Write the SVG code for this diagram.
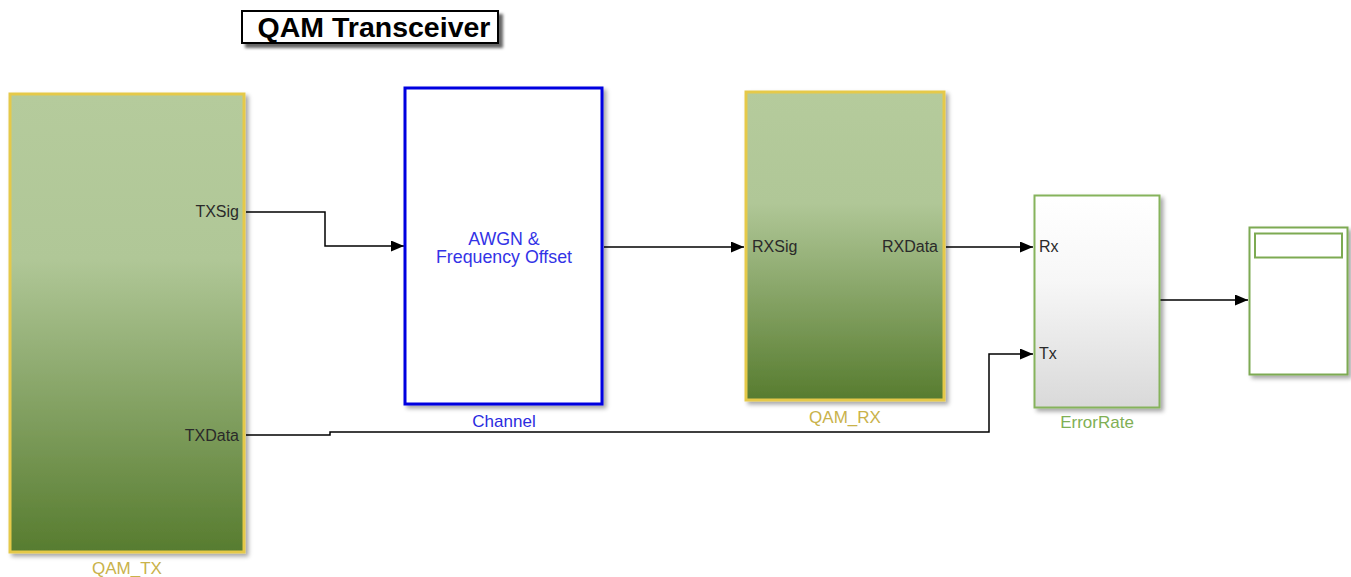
<svg xmlns="http://www.w3.org/2000/svg" width="1351" height="577" viewBox="0 0 1351 577">
<style>
.port{font-family:"Liberation Sans",Arial,sans-serif;font-size:16px;fill:#2a2a2a}
.name{font-family:"Liberation Sans",Arial,sans-serif;font-size:17px;text-anchor:middle}
.inner{font-size:17.8px}
.sub{stroke:#E5C94A;stroke-width:3}
.wire{fill:none;stroke:#000;stroke-width:1.5}
</style>
<defs>
<linearGradient id="gSub" x1="0" y1="0" x2="0" y2="1">
<stop offset="0" stop-color="#B5CB9C"/>
<stop offset="0.36" stop-color="#B0C797"/>
<stop offset="1" stop-color="#577C2F"/>
</linearGradient>
<linearGradient id="gGrey" x1="0" y1="0" x2="0" y2="1">
<stop offset="0" stop-color="#FFFFFF"/>
<stop offset="0.4" stop-color="#F7F7F7"/>
<stop offset="1" stop-color="#D9D9D9"/>
</linearGradient>
<filter id="sh" x="-10%" y="-10%" width="130%" height="130%">
<feDropShadow dx="3" dy="3" stdDeviation="2" flood-color="#000" flood-opacity="0.35"/>
</filter>
<filter id="tsh" x="-10%" y="-20%" width="130%" height="160%">
<feDropShadow dx="4" dy="4" stdDeviation="1.5" flood-color="#000" flood-opacity="0.6"/>
</filter>
<marker id="arr" markerWidth="13" markerHeight="11" refX="13" refY="5.5" orient="auto" markerUnits="userSpaceOnUse">
<path d="M0,0 L13,5.5 L0,11 Z" fill="#000"/>
</marker>
</defs>

<g id="title">
<rect x="242" y="11" width="256" height="32" fill="#fff" stroke="#000" stroke-width="2" filter="url(#tsh)"/>
<text x="374" y="37" text-anchor="middle" font-family="'Liberation Sans',Arial,sans-serif" font-size="28.5" font-weight="bold" fill="#000">QAM Transceiver</text>
</g>

<g id="connectors">
<polyline class="wire" points="246,212 325,212 325,246 404,246" marker-end="url(#arr)"/>
<polyline class="wire" points="604,247 744,247" marker-end="url(#arr)"/>
<polyline class="wire" points="946,247 1033,247" marker-end="url(#arr)"/>
<polyline class="wire" points="1160,300 1248,300" marker-end="url(#arr)"/>
<polyline class="wire" points="246,435 330,435 330,432 989,432 989,354 1033,354" marker-end="url(#arr)"/>
</g>

<g id="QAM_TX">
<rect class="sub" x="10" y="94" width="234" height="458" fill="url(#gSub)" filter="url(#sh)"/>
<text class="port" x="239" y="217" text-anchor="end">TXSig</text>
<text class="port" x="239" y="441" text-anchor="end">TXData</text>
<text class="name" x="127" y="574" fill="#C9B24A">QAM_TX</text>
</g>

<g id="Channel">
<rect x="405" y="88" width="197" height="316" fill="#fff" stroke="#0000E0" stroke-width="3" filter="url(#sh)"/>
<text class="name inner" x="504" y="245" fill="#3333E6">AWGN &amp;</text>
<text class="name inner" x="504" y="263" fill="#3333E6">Frequency Offset</text>
<text class="name" x="504" y="427" fill="#2B2BE0">Channel</text>
</g>

<g id="QAM_RX">
<rect class="sub" x="746" y="92" width="198" height="308" fill="url(#gSub)" filter="url(#sh)"/>
<text class="port" x="752" y="252">RXSig</text>
<text class="port" x="938" y="252" text-anchor="end">RXData</text>
<text class="name" x="845" y="423" fill="#C9B24A">QAM_RX</text>
</g>

<g id="ErrorRate">
<rect x="1034.5" y="195.5" width="125" height="212" fill="url(#gGrey)" stroke="#86B35C" stroke-width="2" filter="url(#sh)"/>
<text class="port" x="1039" y="252">Rx</text>
<text class="port" x="1039" y="359">Tx</text>
<text class="name" x="1097" y="428" fill="#7FAF55">ErrorRate</text>
</g>

<g id="Display">
<rect x="1249.5" y="227.5" width="98" height="147" fill="#fff" stroke="#7DAA52" stroke-width="2" filter="url(#sh)"/>
<rect x="1255" y="233.5" width="87" height="24" fill="#fff" stroke="#7DAA52" stroke-width="2"/>
</g>
</svg>
